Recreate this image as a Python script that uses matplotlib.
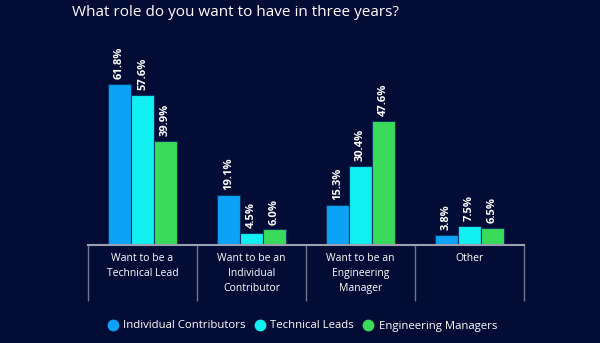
import matplotlib
matplotlib.use("Agg")
import matplotlib.pyplot as plt
from matplotlib.lines import Line2D
import numpy as np

categories = ["Want to be a\nTechnical Lead", "Want to be an\nIndividual\nContributor",
              "Want to be an\nEngineering\nManager", "Other"]
series_names = ["Individual Contributors", "Technical Leads", "Engineering Managers"]
ic_values = [61.8, 19.1, 15.3, 3.8]
tl_values = [57.6, 4.5, 30.4, 7.5]
em_values = [39.9, 6.0, 47.6, 6.5]
colors = ["#0BA2F7", "#12EFF0", "#3ADB5B"]
bg = "#030C35"
grid_col = "#9AA0B0"

plt.rcParams['font.family'] = ['Open Sans', 'DejaVu Sans']

fig = plt.figure(figsize=(6.0, 3.43), dpi=100, facecolor=bg)
W, H = 600, 343
ax = fig.add_axes([88 / W, 1 - 245 / H, (524 - 88) / W, (245 - 45) / H], facecolor=bg)

x = np.arange(len(categories))
bw = 0.205
step = 0.212
for i, (vals, col) in enumerate(zip([ic_values, tl_values, em_values], colors)):
    pos = x + (i - 1) * step
    ax.bar(pos, vals, width=bw, color=col, edgecolor="#0A3560", linewidth=0.8, zorder=2)
    for p, v in zip(pos, vals):
        ax.annotate(f"{v:.1f}%", (p, v), xytext=(0, 3.5), textcoords="offset points",
                    rotation=90, ha="center", va="bottom", color="white",
                    fontsize=8, fontweight="bold")

ax.set_xlim(-0.5, 3.5)
ax.set_ylim(0, 200 / 2.6)
ax.set_yticks([])
for s in ["top", "left", "right"]:
    ax.spines[s].set_visible(False)
ax.spines["bottom"].set_color(grid_col)
ax.spines["bottom"].set_linewidth(1.5)

ax.set_xticks(x)
ax.set_xticklabels(categories, color="white", fontsize=7.5, linespacing=1.45, va="top")
ax.tick_params(axis="x", which="major", length=0, pad=6)
ax.set_xticks(np.arange(-0.5, 4, 1.0), minor=True)
ax.tick_params(axis="x", which="minor", length=40, width=1, color="#6F7590", direction="out")

fig.text(72 / W, 1 - 13 / H, "What role do you want to have in three years?", color="white",
         fontsize=11, ha="left", va="center")

handles = [Line2D([0], [0], marker="o", linestyle="", markersize=7.5, markerfacecolor=c,
                  markeredgecolor=c) for c in colors]
leg = fig.legend(handles, series_names, loc="center", bbox_to_anchor=(302 / W, 1 - 326 / H),
                 ncol=3, frameon=False, fontsize=8.2, handletextpad=0.45, columnspacing=0.7,
                 handlelength=1.0)
for t in leg.get_texts():
    t.set_color("white")

fig.savefig("out.png", dpi=100, facecolor=bg)
